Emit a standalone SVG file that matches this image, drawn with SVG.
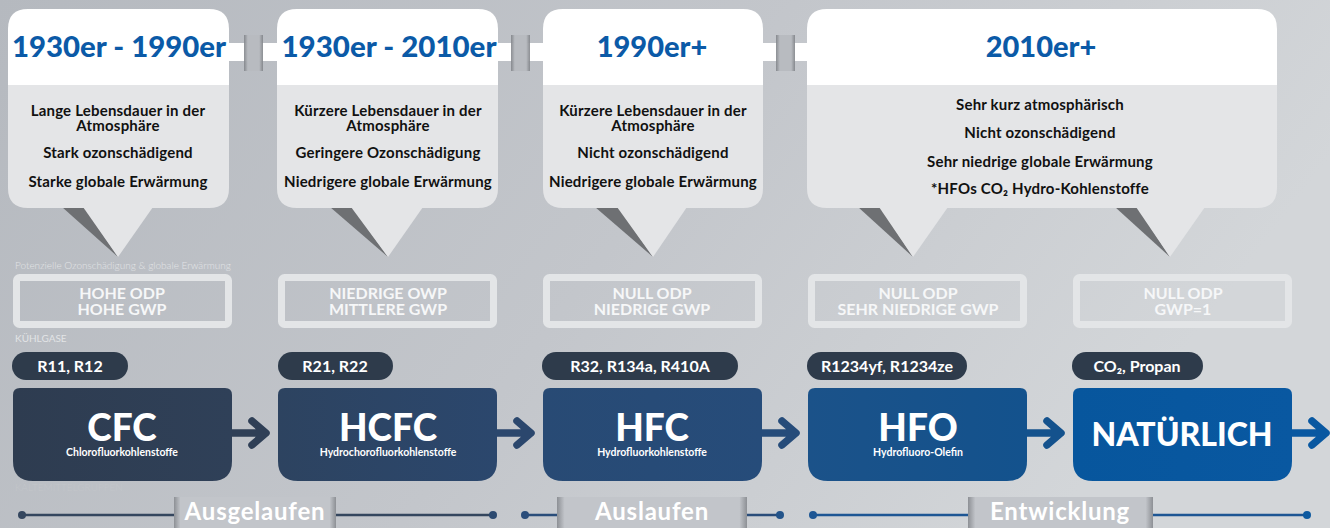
<svg xmlns="http://www.w3.org/2000/svg" width="1330" height="528" viewBox="0 0 1330 528">
<defs>
<linearGradient id="bg" x1="0" y1="0" x2="1" y2="0.3">
<stop offset="0" stop-color="#b5b9bf"/>
<stop offset="0.55" stop-color="#c3c6cb"/>
<stop offset="1" stop-color="#d3d6d9"/>
</linearGradient>
<linearGradient id="pillar" x1="0" y1="0" x2="1" y2="0">
<stop offset="0" stop-color="#808388" stop-opacity="0.9"/>
<stop offset="0.2" stop-color="#b8bbc0"/>
<stop offset="0.8" stop-color="#b8bbc0"/>
<stop offset="1" stop-color="#808388" stop-opacity="0.9"/>
</linearGradient>
<linearGradient id="labelbg" x1="0" y1="0" x2="1" y2="0">
<stop offset="0" stop-color="#8d9095"/>
<stop offset="0.04" stop-color="#c2c5ca"/>
<stop offset="0.96" stop-color="#c2c5ca"/>
<stop offset="1" stop-color="#8d9095"/>
</linearGradient>
<linearGradient id="g1" x1="0" y1="0" x2="1" y2="0"><stop offset="0" stop-color="#2e3c50"/><stop offset="1" stop-color="#2f4058"/></linearGradient>
<linearGradient id="g2" x1="0" y1="0" x2="1" y2="0"><stop offset="0" stop-color="#2d4360"/><stop offset="1" stop-color="#2b476d"/></linearGradient>
<linearGradient id="g3" x1="0" y1="0" x2="1" y2="0"><stop offset="0" stop-color="#284a74"/><stop offset="1" stop-color="#264c7a"/></linearGradient>
<linearGradient id="g4" x1="0" y1="0" x2="1" y2="0"><stop offset="0" stop-color="#1b5289"/><stop offset="1" stop-color="#13528d"/></linearGradient>
<linearGradient id="g5" x1="0" y1="0" x2="1" y2="0"><stop offset="0" stop-color="#07569d"/><stop offset="1" stop-color="#0958a1"/></linearGradient>
<style>
.bub{fill:#e4e5e7}
.hdr{fill:#ffffff}
.tsh{fill:#6e7073}
.title{font-family:Lato,"Noto Sans",sans-serif;font-weight:900;font-size:29px;fill:#0b5aa7;text-anchor:middle}
.desc{font-family:Lato,"Noto Sans",sans-serif;font-weight:700;font-size:15px;letter-spacing:0.2px;fill:#111;text-anchor:middle}
.odp{fill:none;stroke:#e3e5e7;stroke-width:7}
.odpt{font-family:Lato,"Noto Sans",sans-serif;font-weight:700;font-size:16px;fill:#f6f7f8;text-anchor:middle}
.small{font-family:Lato,"Noto Sans",sans-serif;font-weight:300;font-size:10px;fill:#e2e4e6}
.pill{fill:#2e3b4b}
.pillt{font-family:Lato,"Noto Sans",sans-serif;font-weight:700;font-size:16px;fill:#ffffff;text-anchor:middle}
.big{font-family:Lato,"Noto Sans",sans-serif;font-weight:900;font-size:37px;fill:#ffffff;text-anchor:middle}
.sub{font-weight:700;font-size:10.5px}
.lab{font-family:Lato,"Noto Sans",sans-serif;font-weight:700;font-size:24px;letter-spacing:0.8px;fill:#ffffff;text-anchor:middle}
.arrow{fill:none;stroke-width:7.5;stroke-linecap:round;stroke-linejoin:round}
.tl{stroke-width:2.5}
</style>
</defs>
<rect x="0" y="0" width="1330" height="528" fill="url(#bg)"/>

<g id="bubble-links">
<rect x="228" y="43" width="50" height="18" fill="#ffffff"/>
<rect x="244" y="35" width="19" height="36" fill="url(#pillar)"/>
<rect x="497" y="43" width="47" height="18" fill="#ffffff"/>
<rect x="511" y="35" width="19" height="36" fill="url(#pillar)"/>
<rect x="762" y="43" width="46" height="18" fill="#ffffff"/>
<rect x="776" y="35" width="19" height="36" fill="url(#pillar)"/>
</g>

<g id="bubble1">
<polygon class="tsh" points="62,207 84,207 118,257"/>
<polygon class="bub" points="83,207 153,207 118,257"/>
<path class="bub" d="M8,85 H229 V188 Q229,208 209,208 H28 Q8,208 8,188 Z"/>
<path class="hdr" d="M8,85 V29 Q8,9 28,9 H209 Q229,9 229,29 V85 Z"/>
<text class="title" x="119" y="57" textLength="214" lengthAdjust="spacingAndGlyphs">1930er - 1990er</text>
<text class="desc" x="118" y="116">Lange Lebensdauer in der<tspan x="118" dy="14.5">Atmosphäre</tspan></text>
<text class="desc" x="118" y="158">Stark ozonschädigend</text>
<text class="desc" x="118" y="187">Starke globale Erwärmung</text>
</g>

<g id="bubble2">
<polygon class="tsh" points="330,207 352,207 388,257"/>
<polygon class="bub" points="351,207 423,207 388,257"/>
<path class="bub" d="M277,85 H498 V188 Q498,208 478,208 H297 Q277,208 277,188 Z"/>
<path class="hdr" d="M277,85 V29 Q277,9 297,9 H478 Q498,9 498,29 V85 Z"/>
<text class="title" x="389" y="57" textLength="215" lengthAdjust="spacingAndGlyphs">1930er - 2010er</text>
<text class="desc" x="388" y="116">Kürzere Lebensdauer in der<tspan x="388" dy="14.5">Atmosphäre</tspan></text>
<text class="desc" x="388" y="158">Geringere Ozonschädigung</text>
<text class="desc" x="388" y="187">Niedrigere globale Erwärmung</text>
</g>

<g id="bubble3">
<polygon class="tsh" points="595,207 618,207 653,257"/>
<polygon class="bub" points="617,207 687,207 653,257"/>
<path class="bub" d="M543,85 H763 V188 Q763,208 743,208 H563 Q543,208 543,188 Z"/>
<path class="hdr" d="M543,85 V29 Q543,9 563,9 H743 Q763,9 763,29 V85 Z"/>
<text class="title" x="652" y="57">1990er+</text>
<text class="desc" x="653" y="116">Kürzere Lebensdauer in der<tspan x="653" dy="14.5">Atmosphäre</tspan></text>
<text class="desc" x="653" y="158">Nicht ozonschädigend</text>
<text class="desc" x="653" y="187">Niedrigere globale Erwärmung</text>
</g>

<g id="bubble4">
<polygon class="tsh" points="858,207 880,207 913,257"/>
<polygon class="bub" points="879,207 948,207 913,257"/>
<polygon class="tsh" points="1115,207 1137,207 1170,257"/>
<polygon class="bub" points="1136,207 1205,207 1170,257"/>
<path class="bub" d="M807,85 H1277 V188 Q1277,208 1257,208 H827 Q807,208 807,188 Z"/>
<path class="hdr" d="M807,85 V29 Q807,9 827,9 H1257 Q1277,9 1277,29 V85 Z"/>
<text class="title" x="1041" y="57">2010er+</text>
<text class="desc" x="1040" y="110">Sehr kurz atmosphärisch</text>
<text class="desc" x="1040" y="138">Nicht ozonschädigend</text>
<text class="desc" x="1040" y="167">Sehr niedrige globale Erwärmung</text>
<text class="desc" x="1040" y="194">*HFOs CO₂ Hydro-Kohlenstoffe</text>
</g>

<text class="small" x="15" y="269">Potenzielle Ozonschädigung &amp; globale Erwärmung</text>
<text class="small" x="15" y="342" style="font-weight:400">KÜHLGASE</text>
<text class="small" x="15" y="491" style="fill:#c3c6ca">KÄLTEMITTELGRUPPEN</text>

<g id="odp1"><rect class="odp" x="16.5" y="277.5" width="212" height="47" rx="3"/><text class="odpt" x="122" y="299">HOHE ODP<tspan x="122" dy="16">HOHE GWP</tspan></text></g>
<g id="odp2"><rect class="odp" x="281.5" y="277.5" width="212" height="47" rx="3"/><text class="odpt" x="388" y="299">NIEDRIGE OWP<tspan x="388" dy="16">MITTLERE GWP</tspan></text></g>
<g id="odp3"><rect class="odp" x="546.5" y="277.5" width="212" height="47" rx="3"/><text class="odpt" x="652" y="299">NULL ODP<tspan x="652" dy="16">NIEDRIGE GWP</tspan></text></g>
<g id="odp4"><rect class="odp" x="811.5" y="277.5" width="212" height="47" rx="3"/><text class="odpt" x="918" y="299">NULL ODP<tspan x="918" dy="16">SEHR NIEDRIGE GWP</tspan></text></g>
<g id="odp5"><rect class="odp" x="1076.5" y="277.5" width="212" height="47" rx="3"/><text class="odpt" x="1183" y="299">NULL ODP<tspan x="1183" dy="16">GWP=1</tspan></text></g>

<g id="pill1"><rect class="pill" x="12" y="352" width="116" height="28" rx="14"/><text class="pillt" x="70" y="372">R11, R12</text></g>
<g id="pill2"><rect class="pill" x="278" y="352" width="115" height="28" rx="14"/><text class="pillt" x="335" y="372">R21, R22</text></g>
<g id="pill3"><rect class="pill" x="542" y="352" width="196" height="28" rx="14"/><text class="pillt" x="640" y="372">R32, R134a, R410A</text></g>
<g id="pill4"><rect class="pill" x="807" y="352" width="160" height="28" rx="14"/><text class="pillt" x="887" y="372">R1234yf, R1234ze</text></g>
<g id="pill5"><rect class="pill" x="1072" y="352" width="131" height="28" rx="14"/><text class="pillt" x="1137" y="372">CO₂, Propan</text></g>

<g id="connectors">
<path class="arrow" stroke="#2f3f56" d="M232,433 H264 M252,421 L266,433 L252,445"/>
<path class="arrow" stroke="#2b476d" d="M497,433 H529 M517,421 L531,433 L517,445"/>
<path class="arrow" stroke="#264c7a" d="M762,433 H794 M782,421 L796,433 L782,445"/>
<path class="arrow" stroke="#14528d" d="M1027,433 H1059 M1047,421 L1061,433 L1047,445"/>
<path class="arrow" stroke="#0958a1" d="M1292,433 H1324 M1312,421 L1326,433 L1312,445"/>
</g>

<g id="cfc">
<path fill="url(#g1)" d="M13,395 Q13,388 20,388 H225 Q232,388 232,395 V461 Q232,481 212,481 H33 Q13,481 13,461 Z"/>
<text class="big" x="122" y="441">CFC<tspan class="sub" x="122" dy="15">Chlorofluorkohlenstoffe</tspan></text>
</g>
<g id="hcfc">
<path fill="url(#g2)" d="M278,395 Q278,388 285,388 H490 Q497,388 497,395 V461 Q497,481 477,481 H298 Q278,481 278,461 Z"/>
<text class="big" x="388" y="441">HCFC<tspan class="sub" x="388" dy="15">Hydrochorofluorkohlenstoffe</tspan></text>
</g>
<g id="hfc">
<path fill="url(#g3)" d="M543,395 Q543,388 550,388 H755 Q762,388 762,395 V461 Q762,481 742,481 H563 Q543,481 543,461 Z"/>
<text class="big" x="652" y="441">HFC<tspan class="sub" x="652" dy="15">Hydrofluorkohlenstoffe</tspan></text>
</g>
<g id="hfo">
<path fill="url(#g4)" d="M808,395 Q808,388 815,388 H1020 Q1027,388 1027,395 V461 Q1027,481 1007,481 H828 Q808,481 808,461 Z"/>
<text class="big" x="918" y="441">HFO<tspan class="sub" x="918" dy="15">Hydrofluoro-Olefin</tspan></text>
</g>
<g id="natuerlich">
<path fill="url(#g5)" d="M1073,395 Q1073,388 1080,388 H1285 Q1292,388 1292,395 V461 Q1292,481 1272,481 H1093 Q1073,481 1073,461 Z"/>
<text class="big" x="1182" y="446" style="font-size:32px">NATÜRLICH</text>
</g>

<g id="timeline">
<line class="tl" stroke="#34465e" x1="22" y1="515" x2="493" y2="515"/>
<circle cx="22" cy="515" r="4" fill="#34465e"/>
<circle cx="493" cy="515" r="4" fill="#2c4a70"/>
<line class="tl" stroke="#2a4d7a" x1="525" y1="515" x2="780" y2="515"/>
<circle cx="525" cy="515" r="4" fill="#2a4d7a"/>
<circle cx="780" cy="515" r="4" fill="#23548a"/>
<line class="tl" stroke="#1d5694" x1="813" y1="515" x2="1307" y2="515"/>
<circle cx="813" cy="515" r="4" fill="#1d5694"/>
<circle cx="1307" cy="515" r="4" fill="#0e5aa0"/>
</g>

<g id="label-ausgelaufen"><rect x="174" y="497" width="162" height="31" fill="url(#labelbg)"/><text class="lab" x="255" y="520">Ausgelaufen</text></g>
<g id="label-auslaufen"><rect x="557" y="497" width="190" height="31" fill="url(#labelbg)"/><text class="lab" x="652" y="520">Auslaufen</text></g>
<g id="label-entwicklung"><rect x="968" y="497" width="185" height="31" fill="url(#labelbg)"/><text class="lab" x="1060" y="520">Entwicklung</text></g>
</svg>
